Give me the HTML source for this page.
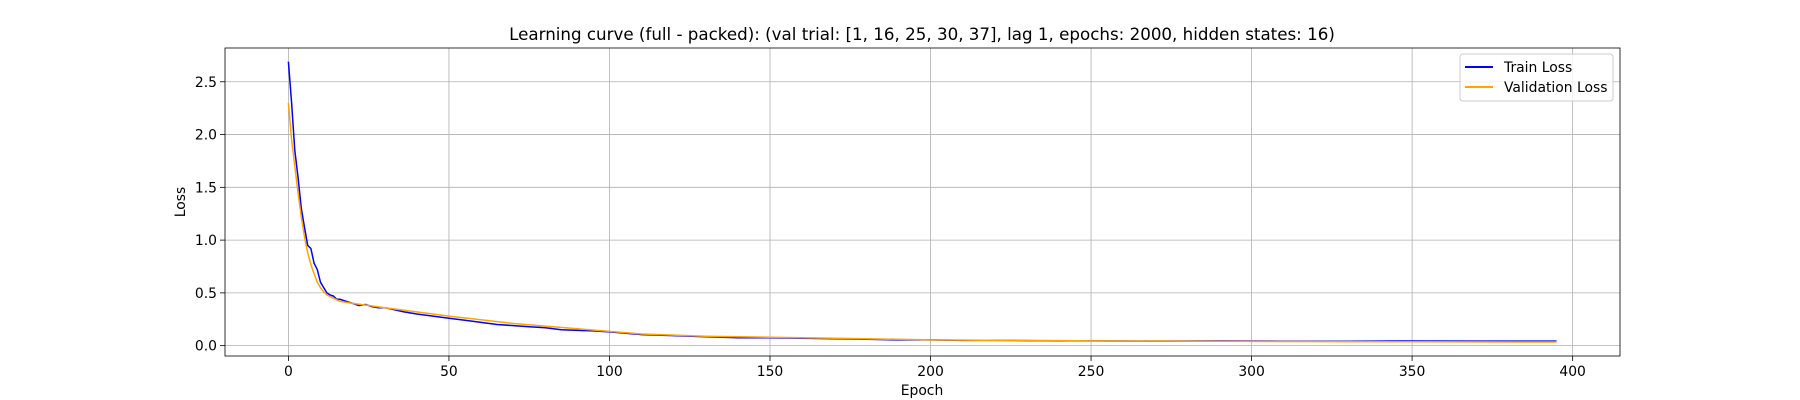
<!DOCTYPE html>
<html><head><meta charset="utf-8"><style>
html,body{margin:0;padding:0;background:#fff;}
svg{display:block;font-family:"DejaVu Sans","Liberation Sans",sans-serif;}
</style></head><body>
<svg id="chart" width="1800" height="400" xmlns="http://www.w3.org/2000/svg">
<text x="922" y="40" font-size="16.7" text-anchor="middle">Learning curve (full - packed): (val trial: [1, 16, 25, 30, 37], lag 1, epochs: 2000, hidden states: 16)</text>
<g id="grid"></g><g id="series"></g><g id="axes"></g>
<text x="922" y="395" font-size="13.9" text-anchor="middle">Epoch</text>
<text transform="translate(185,202) rotate(-90)" font-size="13.9" text-anchor="middle">Loss</text>
<g>
<rect x="1460" y="54" width="153" height="47" rx="3" fill="#fff" fill-opacity="0.8" stroke="#ccc" stroke-width="1"/>
<line x1="1465" y1="67" x2="1493" y2="67" stroke="#0000ff" stroke-width="2"/>
<text x="1504" y="72" font-size="13.9">Train Loss</text>
<line x1="1465" y1="87" x2="1493" y2="87" stroke="#ffa500" stroke-width="2"/>
<text x="1504" y="92" font-size="13.9">Validation Loss</text>
</g>
</svg>
<script>
const trainEpochs=[0,1,2,3,4,5,6,7,8,9,10,11,12,13,14,15,16,18,20,22,24,26,28,30,33,36,40,45,50,55,60,65,70,75,80,85,90,95,100,110,120,130,140,150,160,170,180,190,200,210,220,230,240,250,270,290,310,330,350,370,395];
const trainLoss=[2.69,2.3,1.85,1.6,1.3,1.12,0.95,0.92,0.78,0.72,0.6,0.55,0.5,0.48,0.47,0.44,0.44,0.42,0.4,0.38,0.39,0.37,0.36,0.36,0.34,0.32,0.3,0.28,0.26,0.24,0.22,0.2,0.19,0.18,0.17,0.15,0.145,0.14,0.13,0.105,0.095,0.085,0.075,0.075,0.07,0.065,0.06,0.055,0.055,0.05,0.05,0.048,0.045,0.045,0.043,0.045,0.042,0.042,0.044,0.043,0.043];
const valEpochs=[0,1,2,3,4,5,6,7,8,9,10,11,12,14,16,18,20,25,30,40,50,60,70,80,90,100,110,120,130,150,175,200,250,300,350,395];
const valLoss=[2.3,1.95,1.7,1.45,1.22,1.03,0.88,0.77,0.68,0.6,0.55,0.51,0.48,0.45,0.42,0.41,0.4,0.38,0.36,0.32,0.28,0.245,0.21,0.185,0.16,0.135,0.11,0.1,0.09,0.08,0.068,0.055,0.045,0.04,0.037,0.035];
const xTicks=[0,50,100,150,200,250,300,350,400];
const yTicks=[0.0,0.5,1.0,1.5,2.0,2.5];
const L=225,R=1620,T=48,B=356;
const xMin=-19.75,xMax=414.75,yMin=-0.098,yMax=2.82;
const sx=v=>L+(v-xMin)/(xMax-xMin)*(R-L);
const sy=v=>B-(v-yMin)/(yMax-yMin)*(B-T);
const NS='http://www.w3.org/2000/svg';
function mk(tag,attrs,parent){const e=document.createElementNS(NS,tag);for(const k in attrs)e.setAttribute(k,attrs[k]);parent.appendChild(e);return e;}
const grid=document.getElementById('grid'),axes=document.getElementById('axes'),series=document.getElementById('series');
xTicks.forEach(t=>{const x=sx(t);
 const g=mk('line',{x1:x,x2:x,y1:T,y2:B,stroke:'#b0b0b0','stroke-width':0.8},grid);
 
 
 mk('line',{x1:x,x2:x,y1:B,y2:B+5,stroke:'#000','stroke-width':0.8},axes);
 const tx=mk('text',{x:x,y:B+20,'font-size':13.9,'text-anchor':'middle'},axes);tx.textContent=t;
 
 });
yTicks.forEach(t=>{const y=sy(t);
 const g=mk('line',{x1:L,x2:R,y1:y,y2:y,stroke:'#b0b0b0','stroke-width':0.8},grid);
 
 
 mk('line',{x1:L-5,x2:L,y1:y,y2:y,stroke:'#000','stroke-width':0.8},axes);
 const tx=mk('text',{x:L-8,y:y+5,'font-size':13.9,'text-anchor':'end'},axes);tx.textContent=t.toFixed(1);
 
 });
const frame=mk('rect',{x:L,y:T,width:R-L,height:B-T,fill:'none',stroke:'#000','stroke-width':0.8},axes);


const pts=(xs,ys)=>xs.map((x,i)=>sx(x).toFixed(1)+','+sy(ys[i]).toFixed(1)).join(' ');
const tl=mk('polyline',{points:pts(trainEpochs,trainLoss),fill:'none',stroke:'#0000ff','stroke-width':1.5,'stroke-linejoin':'round'},series);


const vl=mk('polyline',{points:pts(valEpochs,valLoss),fill:'none',stroke:'#ffa500','stroke-width':1.5,'stroke-linejoin':'round'},series);


</script>
</body></html>
